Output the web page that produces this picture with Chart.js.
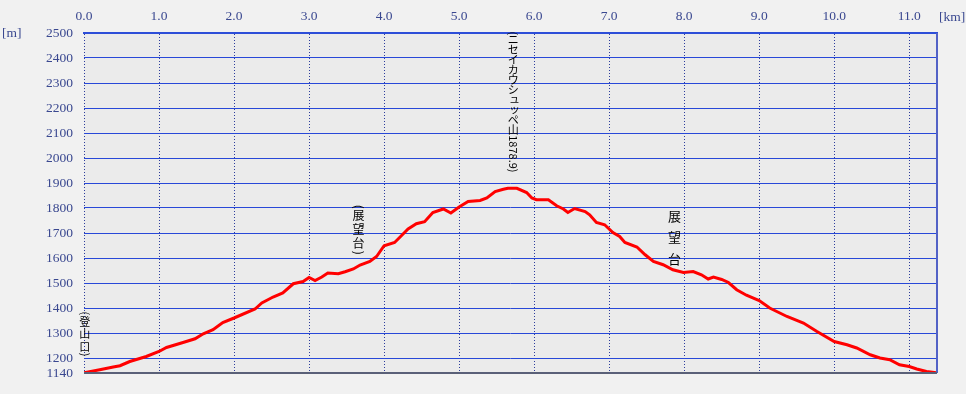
<!DOCTYPE html>
<html lang="ja">
<head>
    <meta charset="UTF-8">
    <title>標高断面図</title>
    <script src="https://cdn.jsdelivr.net/npm/chart.js"></script>
    <style>
        body {
            margin: 0;
            background: #f1f1f1;
        }
        canvas {
            display: block;
        }
    </style>
</head>
<body>
    <canvas id="profileCanvas" width="966" height="394"></canvas>
    <script>
        // profile: distance [km] / elevation [m]
        const distKm = [
            0.00, 0.21, 0.39, 0.48, 0.61, 0.83, 1.00, 1.10, 1.32, 1.48,
            1.59, 1.72, 1.85, 2.00, 2.28, 2.37, 2.52, 2.65, 2.79, 2.92,
            3.00, 3.08, 3.17, 3.25, 3.39, 3.48, 3.59, 3.68, 3.81, 3.90,
            4.00, 4.14, 4.23, 4.32, 4.43, 4.54, 4.65, 4.79, 4.89, 5.00,
            5.12, 5.28, 5.37, 5.48, 5.59, 5.65, 5.77, 5.90, 5.97, 6.03,
            6.19, 6.30, 6.39, 6.45, 6.54, 6.68, 6.74, 6.83, 6.94, 7.05,
            7.14, 7.21, 7.37, 7.48, 7.59, 7.72, 7.85, 7.99, 8.12, 8.23,
            8.32, 8.39, 8.50, 8.59, 8.70, 8.83, 9.00, 9.14, 9.37, 9.59,
            9.77, 10.00, 10.17, 10.30, 10.48, 10.61, 10.74, 10.87, 11.00, 11.10,
            11.23, 11.36
        ];
        const elevM = [
            1141, 1153, 1164, 1169, 1186, 1206, 1226, 1242, 1262, 1277,
            1297, 1313, 1342, 1360, 1396, 1420, 1444, 1460, 1497, 1506,
            1522, 1510, 1524, 1540, 1537, 1545, 1556, 1572, 1586, 1606,
            1649, 1662, 1689, 1716, 1737, 1745, 1782, 1796, 1780, 1804,
            1826, 1830, 1840, 1866, 1875, 1879, 1879, 1862, 1840, 1833,
            1833, 1809, 1796, 1782, 1798, 1786, 1773, 1742, 1733, 1702,
            1686, 1662, 1644, 1613, 1586, 1573, 1553, 1542, 1546, 1533,
            1516, 1524, 1514, 1502, 1473, 1451, 1430, 1400, 1366, 1340,
            1306, 1266, 1253, 1240, 1213, 1200, 1193, 1173, 1166, 1156,
            1146, 1141
        ];

        const xTicks = [0, 1, 2, 3, 4, 5, 6, 7, 8, 9, 10, 11];
        const yTicks = [1140, 1200, 1300, 1400, 1500, 1600, 1700, 1800, 1900, 2000, 2100, 2200, 2300, 2400, 2500];
        const xMax = 11.37;

        // place names written top-to-bottom
        const labelText = ['(登山口)', '(展望台)', '(ニセイカウシュッペ山1878.9)', '展望台'];
        const labelKm = [0.01, 3.66, 5.72, 7.87];
        const labelTopM = [1386, 1813, 2506, 1811];

        const tickColor = '#3a4890';
        const tickFont = { family: '"Liberation Serif", serif', size: 13.5 };

        function drawVertical(ctx, text, cx, top, size, step) {
            let y = top;
            ctx.textAlign = 'center';
            ctx.textBaseline = 'middle';
            ctx.font = size + 'px "Noto Sans CJK JP"';
            for (const ch of text) {
                if (/[\x20-\x7e]/.test(ch)) {
                    const w = ctx.measureText(ch).width;
                    ctx.save();
                    ctx.translate(cx, y + w / 2);
                    ctx.rotate(Math.PI / 2);
                    ctx.fillText(ch, 0, 0);
                    ctx.restore();
                    y += w;
                } else if ('ュッャョァィゥェォ'.includes(ch)) {
                    ctx.fillText(ch, cx + size * 0.12, y + step / 2 - size * 0.1);
                    y += step;
                } else {
                    ctx.fillText(ch, cx, y + step / 2);
                    y += step;
                }
            }
        }

        const frame = {
            id: 'frame',
            beforeDraw(chart) {
                const { ctx, chartArea: a } = chart;
                ctx.save();
                ctx.fillStyle = '#ebebeb';
                ctx.fillRect(a.left, a.top, a.right - a.left, a.bottom - a.top);
                ctx.restore();
            },
            afterDraw(chart) {
                const { ctx, chartArea: a } = chart;
                const xs = chart.scales.x, ys = chart.scales.y;
                ctx.save();
                // right and bottom edges
                ctx.strokeStyle = '#5262c6';
                ctx.lineWidth = 2;
                ctx.beginPath();
                ctx.moveTo(a.right, a.top);
                ctx.lineTo(a.right, a.bottom);
                ctx.stroke();
                ctx.strokeStyle = '#5a6078';
                ctx.beginPath();
                ctx.moveTo(a.left, a.bottom);
                ctx.lineTo(a.right, a.bottom);
                ctx.stroke();

                // unit captions
                ctx.fillStyle = tickColor;
                ctx.font = '13.5px "Liberation Serif"';
                ctx.textBaseline = 'middle';
                ctx.textAlign = 'left';
                ctx.fillText('[m]', 2, 33);
                ctx.fillText('[km]', 939, 17);

                // place names
                const sizes = [11, 12, 11, 13];
                const steps = [12.5, 14, 10, 21.5];
                ctx.fillStyle = '#000';
                labelText.forEach((t, i) => {
                    drawVertical(ctx, t, xs.getPixelForValue(labelKm[i]), ys.getPixelForValue(labelTopM[i]), sizes[i], steps[i]);
                });
                ctx.restore();
            }
        };

        new Chart(document.getElementById('profileCanvas'), {
            type: 'line',
            data: {
                datasets: [{
                    data: distKm.map((d, i) => ({ x: d, y: elevM[i] })),
                    borderColor: '#ff0000',
                    borderWidth: 3,
                    pointRadius: 0,
                    fill: false,
                    tension: 0
                }]
            },
            options: {
                responsive: false,
                animation: false,
                layout: { padding: { left: 0, top: 0, right: 29, bottom: 21 } },
                plugins: { legend: { display: false }, tooltip: { enabled: false } },
                scales: {
                    x: {
                        type: 'linear',
                        position: 'top',
                        min: 0,
                        max: xMax,
                        afterBuildTicks: s => { s.ticks = xTicks.map(v => ({ value: v })); },
                        afterFit: s => { s.height = 33; },
                        ticks: {
                            color: tickColor,
                            font: tickFont,
                            padding: 8,
                            maxRotation: 0,
                            callback: v => v.toFixed(1)
                        },
                        grid: {
                            color: '#2c3c9c',
                            lineWidth: 1,
                            drawTicks: false
                        },
                        border: { display: true, color: '#2d4ed8', width: 2, dash: [1, 2] }
                    },
                    y: {
                        min: 1140,
                        max: 2500,
                        afterBuildTicks: s => { s.ticks = yTicks.map(v => ({ value: v })); },
                        afterFit: s => { s.width = 84; },
                        ticks: {
                            color: tickColor,
                            font: tickFont,
                            padding: 11,
                            callback: v => String(v)
                        },
                        grid: {
                            color: ctx => (ctx.tick && (ctx.tick.value === 1140 || ctx.tick.value === 2500)) ? 'rgba(0,0,0,0)' : '#2848d8',
                            lineWidth: 1,
                            drawTicks: false
                        },
                        border: { display: false }
                    }
                }
            },
            plugins: [frame]
        });
    </script>
</body>
</html>
